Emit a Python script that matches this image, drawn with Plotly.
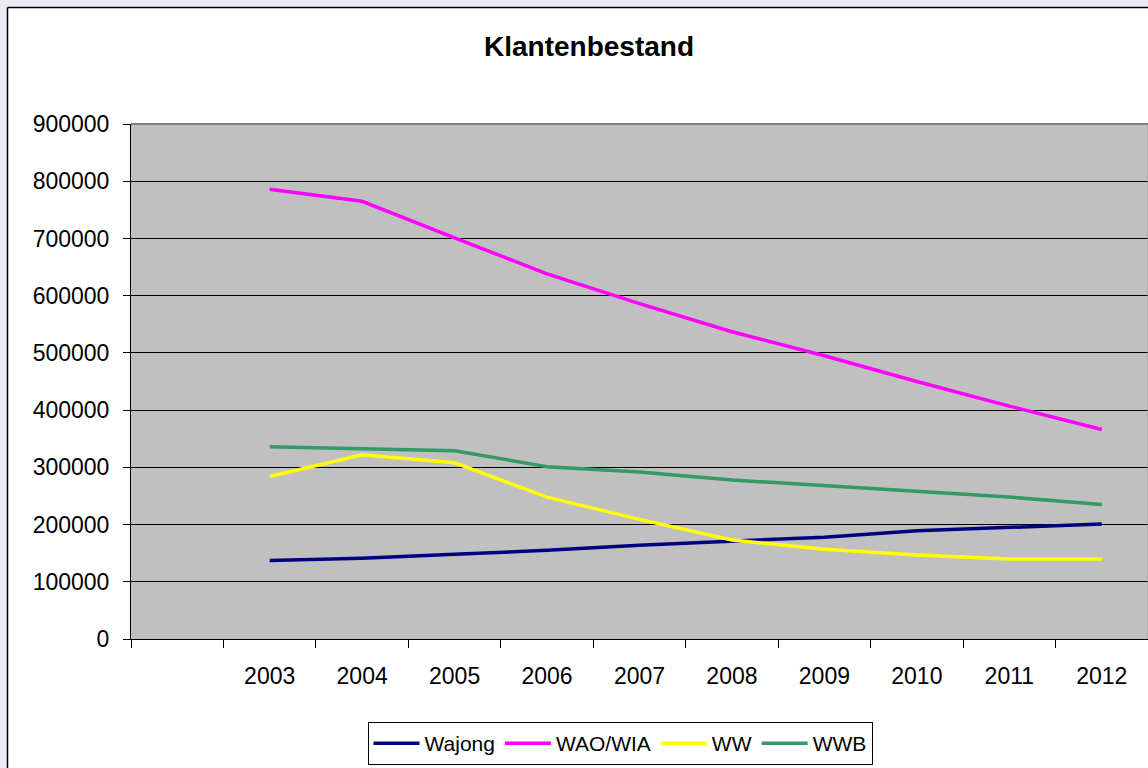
import plotly.graph_objects as go

years = ["2003", "2004", "2005", "2006", "2007", "2008", "2009", "2010", "2011", "2012"]
categories = [" "] + years

wajong = [137000, 141000, 148000, 155000, 164000, 171000, 178000, 189000, 195000, 201000]
wao_wia = [786000, 765000, 701000, 638000, 586000, 537000, 495000, 450000, 407000, 366000]
ww = [284000, 322000, 308000, 248000, 209000, 173000, 157000, 147000, 140000, 140000]
wwb = [336000, 332000, 329000, 301000, 292000, 278000, 268000, 258000, 248000, 235000]

series = [
    ("Wajong", wajong, "#000080"),
    ("WAO/WIA", wao_wia, "#FF00FF"),
    ("WW", ww, "#FFFF00"),
    ("WWB", wwb, "#339966"),
]

W, H = 1148, 768
ML, MR, MT, MB = 131, 0, 124, 129
PW = W - ML - MR
PH = H - MT - MB


def px_x(p):
    return (p - ML) / PW


def px_y(p):
    return (H - MB - p) / PH


FONT = "Liberation Sans, Arial, sans-serif"

fig = go.Figure()
for name, vals, color in series:
    fig.add_trace(go.Scatter(
        x=years, y=vals, name=name, mode="lines",
        line=dict(color=color, width=3.5),
    ))

shapes = [
    dict(type="rect", xref="paper", yref="paper", x0=px_x(0), x1=px_x(7), y0=px_y(H), y1=px_y(0),
         fillcolor="#EBEBF4", line=dict(width=0), layer="below"),
    dict(type="rect", xref="paper", yref="paper", x0=px_x(0), x1=px_x(W), y0=px_y(7), y1=px_y(0),
         fillcolor="#EBEBF4", line=dict(width=0), layer="below"),
    dict(type="line", xref="paper", yref="paper", x0=px_x(7.5), x1=px_x(7.5), y0=px_y(H), y1=px_y(7.5),
         line=dict(color="black", width=1.5)),
    dict(type="line", xref="paper", yref="paper", x0=px_x(7.5), x1=px_x(W), y0=px_y(7.5), y1=px_y(7.5),
         line=dict(color="black", width=1.5)),
    dict(type="line", xref="paper", yref="paper", x0=0, x1=1, y0=1, y1=1,
         line=dict(color="#808080", width=2)),
    dict(type="line", xref="paper", yref="paper", x0=1, x1=1, y0=0, y1=1,
         line=dict(color="#A0A0A0", width=1)),
]

fig.update_layout(
    width=W, height=H,
    margin=dict(l=ML, r=MR, t=MT, b=MB),
    paper_bgcolor="white",
    plot_bgcolor="#C0C0C0",
    font=dict(family=FONT, color="black", size=23),
    title=dict(text="<b>Klantenbestand</b>", x=589 / W, xanchor="center",
               y=1 - 46 / H, yanchor="middle", yref="container",
               font=dict(family=FONT, size=28, color="black")),
    showlegend=True,
    legend=dict(orientation="h", x=px_x(620), xanchor="center", y=px_y(722), yanchor="top",
                bgcolor="white", bordercolor="black", borderwidth=1,
                itemwidth=46,
                font=dict(family=FONT, size=21, color="black")),
    shapes=shapes,
    xaxis=dict(
        type="category", categoryorder="array", categoryarray=categories,
        range=[-0.5, 10.5], tickson="boundaries",
        ticks="outside", ticklen=8, tickcolor="black", tickwidth=1,
        showline=True, linecolor="black", linewidth=1,
        showgrid=False, zeroline=False,
        tickfont=dict(family=FONT, size=23, color="black"),
        ticklabelstandoff=16,
        fixedrange=True,
    ),
    yaxis=dict(
        range=[0, 900000], dtick=100000, tick0=0, tickformat="d",
        ticks="outside", ticklen=7, tickcolor="black", tickwidth=1,
        showline=True, linecolor="black", linewidth=1,
        showgrid=True, gridcolor="black", gridwidth=1,
        zeroline=False,
        tickfont=dict(family=FONT, size=23, color="black"),
        ticklabelstandoff=9,
        fixedrange=True,
    ),
)

fig.write_html("out.html")
